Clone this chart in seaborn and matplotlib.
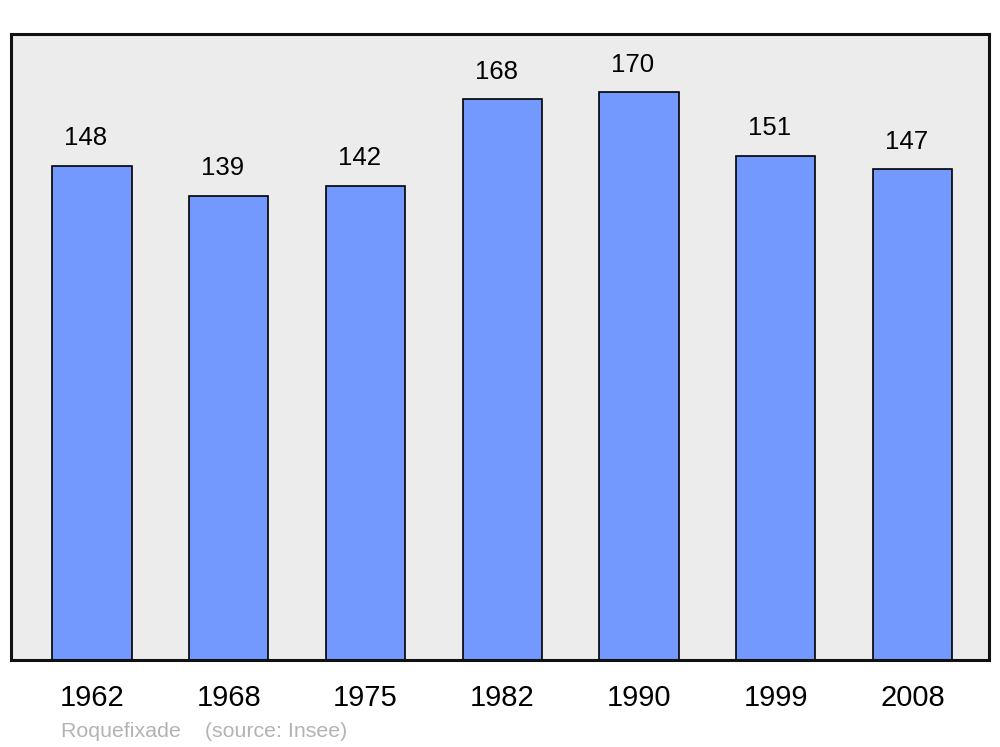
import matplotlib
matplotlib.use('Agg')
import matplotlib.pyplot as plt
import pandas as pd
import seaborn as sns

years = ['1962', '1968', '1975', '1982', '1990', '1999', '2008']
population = [148, 139, 142, 168, 170, 151, 147]
commune = 'Roquefixade'
source = '(source: Insee)'

sns.set_style('white')
plt.rcParams['font.family'] = ['Liberation Sans', 'DejaVu Sans']
plt.rcParams['text.color'] = 'black'
plt.rcParams['xtick.color'] = 'black'

df = pd.DataFrame({'year': years, 'pop': population})

fig = plt.figure(figsize=(10, 7.47), dpi=100)
ax = fig.add_axes([0.011, 0.1165, 0.978, 0.838])
ax.set_facecolor('#ececec')

sns.barplot(data=df, x='year', y='pop', color='#7399ff', saturation=1,
            width=0.58, edgecolor='black', linewidth=1.2, ax=ax)

for i, v in enumerate(population):
    ax.annotate(str(v), (i - 0.045, v), xytext=(0, 11), textcoords='offset points',
                ha='center', va='bottom', fontsize=18.5, color='black')

ax.set_xlim(-0.592, 6.56)
ax.set_ylim(0, 187.4)
ax.set_xlabel('')
ax.set_ylabel('')
ax.set_yticks([])
ax.tick_params(axis='x', length=0, labelsize=21, pad=17, labelcolor='black')
for s in ax.spines.values():
    s.set_visible(True)
    s.set_linewidth(2.2)
    s.set_color('#111111')

fig.text(0.061, 0.014, commune + '    ' + source, color='#b3b3b3', fontsize=15.4)

fig.savefig('out.png', dpi=100)
plt.close(fig)
